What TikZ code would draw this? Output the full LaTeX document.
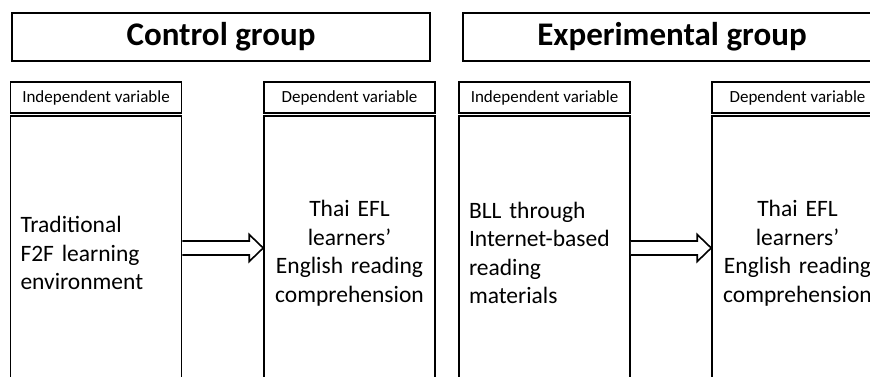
\documentclass[tikz,border=0pt]{standalone}
\usepackage{fontspec}
\setmainfont{Carlito}
\usetikzlibrary{calc}
\tikzset{
  box/.style={draw=black, line width=1.6pt, fill=white, inner sep=0pt},
  titlebox/.style={box, minimum width=418pt, minimum height=48pt, font=\fontsize{33}{39}\selectfont\bfseries},
  headbox/.style={box, minimum width=171pt, minimum height=31pt, font=\fontsize{17}{20}\selectfont},
  bodyl/.style={box, minimum width=171pt, minimum height=274pt, text width=151pt, align=left, font=\fontsize{23.5}{28.5}\selectfont},
  bodyc/.style={box, minimum width=171pt, minimum height=274pt, text width=165pt, align=center, font=\fontsize{23.5}{28.5}\selectfont},
  arrowline/.style={draw=black, line width=1.6pt, fill=white, line join=miter}
}
\newcommand\blockarrow[2]{%
  \path[arrowline] let \p1=(#1.east), \p2=(#2.west) in
    (\x1, \y1+12pt) -- (\x2-14pt, \y1+12pt) -- (\x2-14pt, \y1+18.5pt) -- (\x2, \y1+5pt)
    -- (\x2-14pt, \y1-8.5pt) -- (\x2-14pt, \y1-2pt) -- (\x1, \y1-2pt);
}
\begin{document}
\begin{tikzpicture}[x=1pt,y=1pt]
\useasboundingbox (0,0) rectangle (870,376);
\clip (0,0) rectangle (870,376);
\fill[white] (0,0) rectangle (870,376);
\node[titlebox] (ctitle) at (221,339) {Control group};
\node[titlebox] (etitle) at (672,339) {Experimental group};
\node[headbox] (ch1) at (96,278.5) {Independent variable};
\node[headbox] (ch2) at (349.5,278.5) {Dependent variable};
\node[headbox] (eh1) at (544.5,278.5) {Independent variable};
\node[headbox] (eh2) at (797.5,278.5) {Dependent variable};
\node[bodyl] (cb1) at (96,123) {Traditional\\F2F learning\\environment};
\node[bodyc] (cb2) at (349.5,123) {Thai EFL\\learners’\\English reading\\comprehension};
\node[bodyl] (eb1) at (544.5,123) {BLL through\\Internet-based\\reading\\materials};
\node[bodyc] (eb2) at (797.5,123) {Thai EFL\\learners’\\English reading\\comprehension};
\blockarrow{cb1}{cb2}
\blockarrow{eb1}{eb2}
\end{tikzpicture}
\end{document}
